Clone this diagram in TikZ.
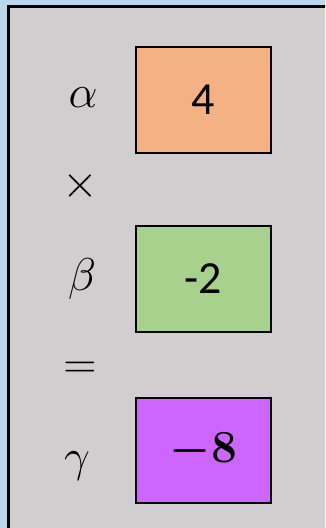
\documentclass[tikz,border=0pt]{standalone}
\usepackage{fix-cm}
\usepackage{fontspec}
\setmainfont{Carlito}
\definecolor{bgblue}{HTML}{BDD7EE}
\definecolor{panelgray}{HTML}{D0CECE}
\definecolor{orangefill}{HTML}{F4B183}
\definecolor{greenfill}{HTML}{A9D18E}
\definecolor{purplefill}{HTML}{CC66FF}
\tikzset{
  valbox/.style={draw=black, line width=2pt, minimum width=135pt, minimum height=106pt, inner sep=0pt,
    font=\fontsize{46}{50}\selectfont},
  mathbox/.style={valbox, font=\fontsize{46}{50}\selectfont\boldmath},
  sym/.style={inner sep=0pt, anchor=base, font=\fontsize{46}{50}\selectfont}
}
\begin{document}
\begin{tikzpicture}[x=1pt,y=-1pt]
\useasboundingbox (0,0) rectangle (325,528);
\fill[bgblue] (0,0) rectangle (325,528);
\begin{scope}
\clip (0,0) rectangle (325,528);
\draw[fill=panelgray, line width=2.5pt] (8.5,6.5) rectangle (345,545);
\end{scope}
\node[valbox, fill=orangefill] (a) at (203.5,100) {4};
\node[valbox, fill=greenfill] (b) at (203.5,279) {-2};
\node[mathbox, fill=purplefill, minimum height=105pt] (c) at (203.5,450.5) {$-8$};
\node[sym] (la) at (83,107) {$\alpha$};
\node[sym] (times) at (80,197) {$\times$};
\node[sym] (lb) at (82,290) {$\beta$};
\node[sym] (eq) at (80,378) {$=$};
\node[sym] (lc) at (77,471) {$\gamma$};
\end{tikzpicture}
\end{document}
